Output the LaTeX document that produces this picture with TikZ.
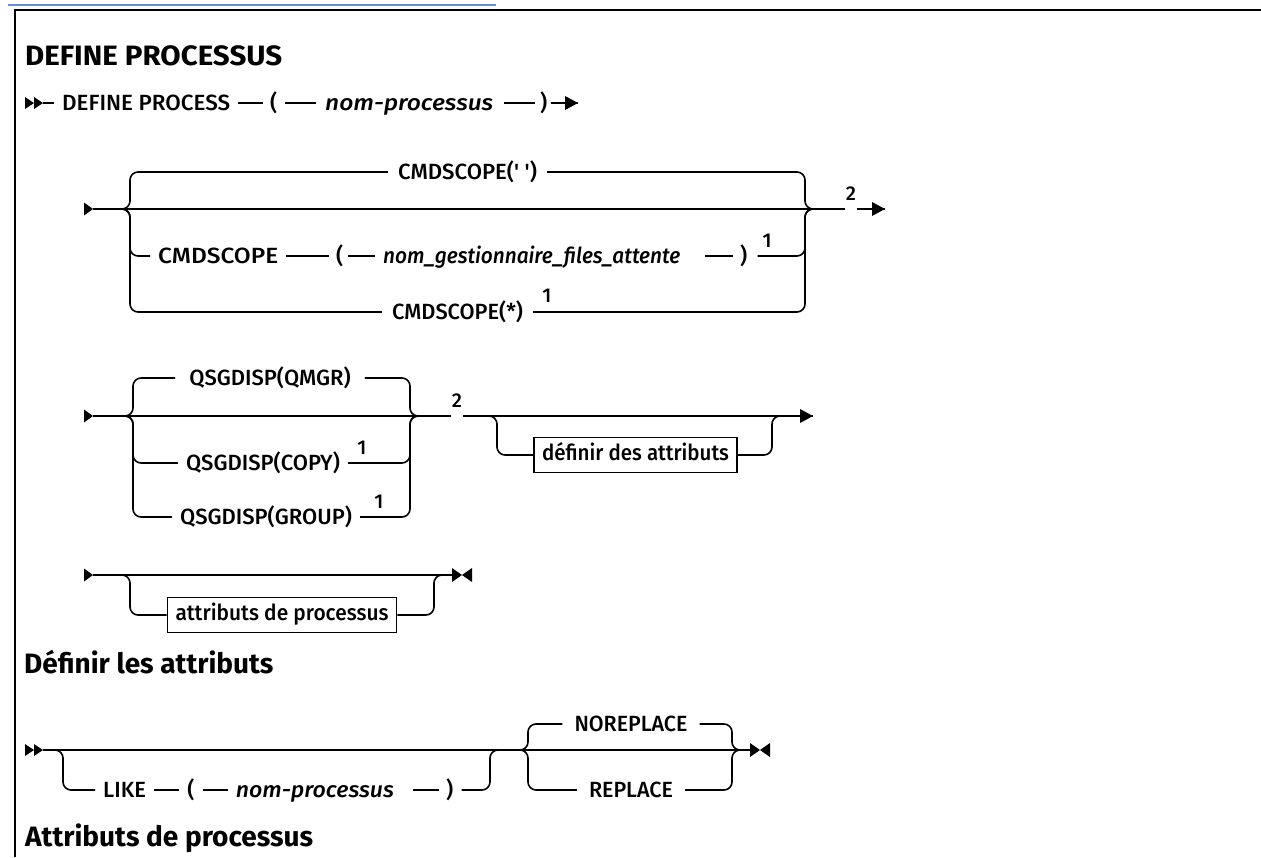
\documentclass[tikz,border=0pt]{standalone}
\usepackage{fontspec}
\usepackage{graphicx}
\IfFontExistsTF{Fira Sans Medium}{%
  \setmainfont{Fira Sans Medium}[BoldFont={Fira Sans Bold}, Ligatures=TeXOff]%
}{%
  \setmainfont{Fira Sans}[FakeBold=0.5, BoldFeatures={FakeBold=0}, Ligatures=TeXOff]%
}
\usetikzlibrary{positioning}
\newcommand\dgfont{\fontsize{22}{26}\selectfont}
\newcommand\hdfont{\fontsize{28}{33}\selectfont\bfseries}
\newcommand\ntfont{\fontsize{20}{22}\selectfont}
\newcommand\fitw[2]{\resizebox{#1}{\height}{#2}}
\definecolor{linkblue}{HTML}{6A8FD6}
\tikzset{
  ln/.style={line width=1.6pt},
  rc/.style={rounded corners=8pt},
  txt/.style={font=\dgfont, inner xsep=8pt, inner ysep=0pt, text height=15pt, text depth=0pt, anchor=west},
  itxt/.style={txt, font=\dgfont\itshape},
  ctxt/.style={txt, anchor=center},
  boxed/.style={draw, line width=1.6pt, font=\dgfont, inner xsep=8pt, inner ysep=8pt, text height=15pt, text depth=4pt, anchor=center},
  note/.style={font=\ntfont, inner xsep=0pt, inner ysep=0pt, anchor=base},
  heading/.style={font=\hdfont, inner sep=0pt, anchor=base west},
  dstart/.pic={\fill (-18,-6) -- (-9,0) -- (-18,6) -- cycle; \fill (-9,-6) -- (0,0) -- (-9,6) -- cycle;},
  sstart/.pic={\fill (-9,-6.5) -- (0,0) -- (-9,6.5) -- cycle;},
  arrowend/.pic={\fill (-13,-7) -- (0,0) -- (-13,7) -- cycle;},
  stopmark/.pic={\fill (-20,-7) -- (-10,0) -- (-20,7) -- cycle; \fill (0,-7) -- (-10,0) -- (0,7) -- cycle;},
}
\begin{document}
\begin{tikzpicture}[x=1pt,y=-1pt]
\useasboundingbox (0,0) rectangle (1261,857);
% frame and link underline
\draw[linkblue, line width=1.5pt] (8,5) -- (496,5);
\draw[line width=2.5pt] (15,857) -- (15,10) -- (1261,10);

% headings
\node[heading] (h1) at (25,65) {\fitw{257pt}{DEFINE PROCESSUS}};
\node[heading] (h2) at (24,673) {Définir les attributs};
\node[heading] (h3) at (25,846) {Attributs de processus};

% ---------------- Row 1
\coordinate (s1) at (43,103);
\pic at (s1) {dstart};
\node[txt] (d1) at (54,103) {\fitw{168pt}{DEFINE PROCESS}};
\node[txt, inner xsep=0pt] (d2) at (270,103) {(};
\node[itxt, inner xsep=0pt] (d3) at (325,103) {\fitw{168pt}{nom-processus}};
\node[txt, inner xsep=0pt] (d4) at (540,103) {)};
\coordinate (e1) at (578,103);
\draw[ln] (s1) -- (d1.west) (d1.east) -- ([xshift=-7pt]d2.west);
\draw[ln] ([xshift=7pt]d2.east) -- ([xshift=-9pt]d3.west);
\draw[ln] ([xshift=11pt]d3.east) -- ([xshift=-5pt]d4.west);
\draw[ln] ([xshift=3pt]d4.east) -- (e1);
\pic at (e1) {arrowend};

% ---------------- Row 2 (CMDSCOPE)
\coordinate (s2) at (93,209);
\pic at (s2) {sstart};
\coordinate (L2) at (130,209);
\coordinate (R2) at (805,209);
\coordinate (e2) at (885,209);
\node[ctxt, inner xsep=10pt] (c1) at (467.5,172) {\fitw{139pt}{CMDSCOPE(' ')}};
\node[txt] (c2a) at (150,256) {\fitw{120pt}{CMDSCOPE}};
\node[txt, inner xsep=0pt] (c2b) at (336,256) {(};
\node[itxt, inner xsep=0pt] (c2c) at (383,256) {\fitw{297pt}{nom\_gestionnaire\_files\_attente}};
\node[txt, inner xsep=0pt] (c2d) at (740,256) {)};
\node[note, anchor=base west] (c2n) at ([xshift=15pt,yshift=9pt]c2d.east) {1};
\node[ctxt, inner xsep=10pt] (c3) at (457.5,312) {\fitw{131pt}{CMDSCOPE(*)}};
\node[note, anchor=base west] (c3n) at ([xshift=9pt,yshift=10pt]c3.east) {1};
\node[note] (n2) at (851,200) {2};
\draw[ln] (s2) -- ([xshift=-1pt]n2.west |- s2);
\draw[ln] ([xshift=1pt]n2.east |- s2) -- (e2);
\pic at (e2) {arrowend};
\draw[ln, rc] ([xshift=-8pt]L2) -- (L2) -- (L2 |- c1) -- (c1.west);
\draw[ln, rc] (c1.east) -- (R2 |- c1) -- (R2) -- ([xshift=8pt]R2);
\draw[ln, rc] ([xshift=-8pt]L2) -- (L2) -- (L2 |- c2a) -- (c2a.west);
\draw[ln] (c2a.east) -- ([xshift=-7pt]c2b.west);
\draw[ln] ([xshift=4pt]c2b.east) -- ([xshift=-8pt]c2c.west);
\draw[ln] ([xshift=25pt]c2c.east) -- ([xshift=-7pt]c2d.west);
\draw[ln, rc] ([xshift=10pt]c2d.east) -- (R2 |- c2d) -- (R2) -- ([xshift=8pt]R2);
\draw[ln, rc] ([xshift=-8pt]L2) -- (L2) -- (L2 |- c3) -- (c3.west);
\draw[ln, rc] (c3.east) -- (R2 |- c3) -- (R2) -- ([xshift=8pt]R2);

% ---------------- Row 3 (QSGDISP)
\coordinate (s3) at (93,416);
\pic at (s3) {sstart};
\coordinate (L3) at (133,416);
\coordinate (R3) at (410,416);
\coordinate (L3b) at (497,416);
\coordinate (R3b) at (772,416);
\coordinate (e3) at (813,416);
\node[ctxt, inner xsep=14pt] (q1) at (270,378) {QSGDISP(QMGR)};
\node[ctxt] (q2) at (263,463) {QSGDISP(COPY)};
\node[note, anchor=base west] (q2n) at ([xshift=9pt,yshift=9pt]q2.east) {1};
\node[ctxt] (q3) at (266,517) {QSGDISP(GROUP)};
\node[note, anchor=base west] (q3n) at ([xshift=14pt,yshift=9pt]q3.east) {1};
\node[note] (n3) at (457,407) {2};
\node[boxed] (db) at (635.5,455) {\fitw{187pt}{définir des attributs}};
\draw[ln] (s3) -- ([xshift=-1pt]n3.west |- s3);
\draw[ln] ([xshift=1pt]n3.east |- s3) -- (e3);
\pic at (e3) {arrowend};
\draw[ln, rc] ([xshift=-8pt]L3) -- (L3) -- (L3 |- q1) -- (q1.west);
\draw[ln, rc] (q1.east) -- (R3 |- q1) -- (R3) -- ([xshift=8pt]R3);
\draw[ln, rc] ([xshift=-8pt]L3) -- (L3) -- (L3 |- q2) -- (q2.west);
\draw[ln, rc] (q2.east) -- (R3 |- q2) -- (R3) -- ([xshift=8pt]R3);
\draw[ln, rc] ([xshift=-8pt]L3) -- (L3) -- (L3 |- q3) -- (q3.west);
\draw[ln, rc] (q3.east) -- (R3 |- q3) -- (R3) -- ([xshift=8pt]R3);
\draw[ln, rc] ([xshift=-8pt]L3b) -- (L3b) -- (L3b |- db) -- (db.west);
\draw[ln, rc] (db.east) -- (R3b |- db) -- (R3b) -- ([xshift=8pt]R3b);

% ---------------- Row 4 (attributs de processus)
\coordinate (s4) at (93,575);
\pic at (s4) {sstart};
\coordinate (L4) at (130,575);
\coordinate (R4) at (434,575);
\coordinate (e4) at (472,575);
\node[boxed] (pb) at (282,615) {\fitw{213pt}{attributs de processus}};
\draw[ln] (s4) -- ([xshift=-20pt]e4);
\pic at (e4) {stopmark};
\draw[ln, rc] ([xshift=-8pt]L4) -- (L4) -- (L4 |- pb) -- (pb.west);
\draw[ln, rc] (pb.east) -- (R4 |- pb) -- (R4) -- ([xshift=8pt]R4);

% ---------------- Row 5 (Définir les attributs)
\coordinate (s5) at (43,750);
\pic at (s5) {dstart};
\coordinate (L5) at (63,750);
\coordinate (R5) at (490,750);
\coordinate (L6) at (528,750);
\coordinate (R6) at (732,750);
\coordinate (e5) at (770,750);
\node[txt] (k1) at (95,790) {LIKE};
\node[txt, right=25pt of k1] (k2) {(};
\node[itxt, right=25pt of k2] (k3) {\fitw{158pt}{nom-processus}};
\node[txt, inner xsep=0pt] (k4) at (446,790) {)};
\node[ctxt, inner xsep=12pt] (r1) at (631,724) {\fitw{113pt}{NOREPLACE}};
\node[ctxt, inner xsep=12pt] (r2) at (631,790) {\fitw{84pt}{REPLACE}};
\draw[ln] (s5) -- ([xshift=-20pt]e5);
\pic at (e5) {stopmark};
\draw[ln, rc] ([xshift=-8pt]L5) -- (L5) -- (L5 |- k1) -- (k1.west);
\draw[ln] (k1.east) -- (k2.west) (k2.east) -- (k3.west);
\draw[ln] ([xshift=11pt]k3.east) -- ([xshift=-7pt]k4.west);
\draw[ln, rc] ([xshift=8pt]k4.east) -- (R5 |- k4) -- (R5) -- ([xshift=8pt]R5);
\draw[ln, rc] ([xshift=-8pt]L6) -- (L6) -- (L6 |- r1) -- (r1.west);
\draw[ln, rc] (r1.east) -- (R6 |- r1) -- (R6) -- ([xshift=8pt]R6);
\draw[ln, rc] ([xshift=-8pt]L6) -- (L6) -- (L6 |- r2) -- (r2.west);
\draw[ln, rc] (r2.east) -- (R6 |- r2) -- (R6) -- ([xshift=8pt]R6);
\end{tikzpicture}
\end{document}
